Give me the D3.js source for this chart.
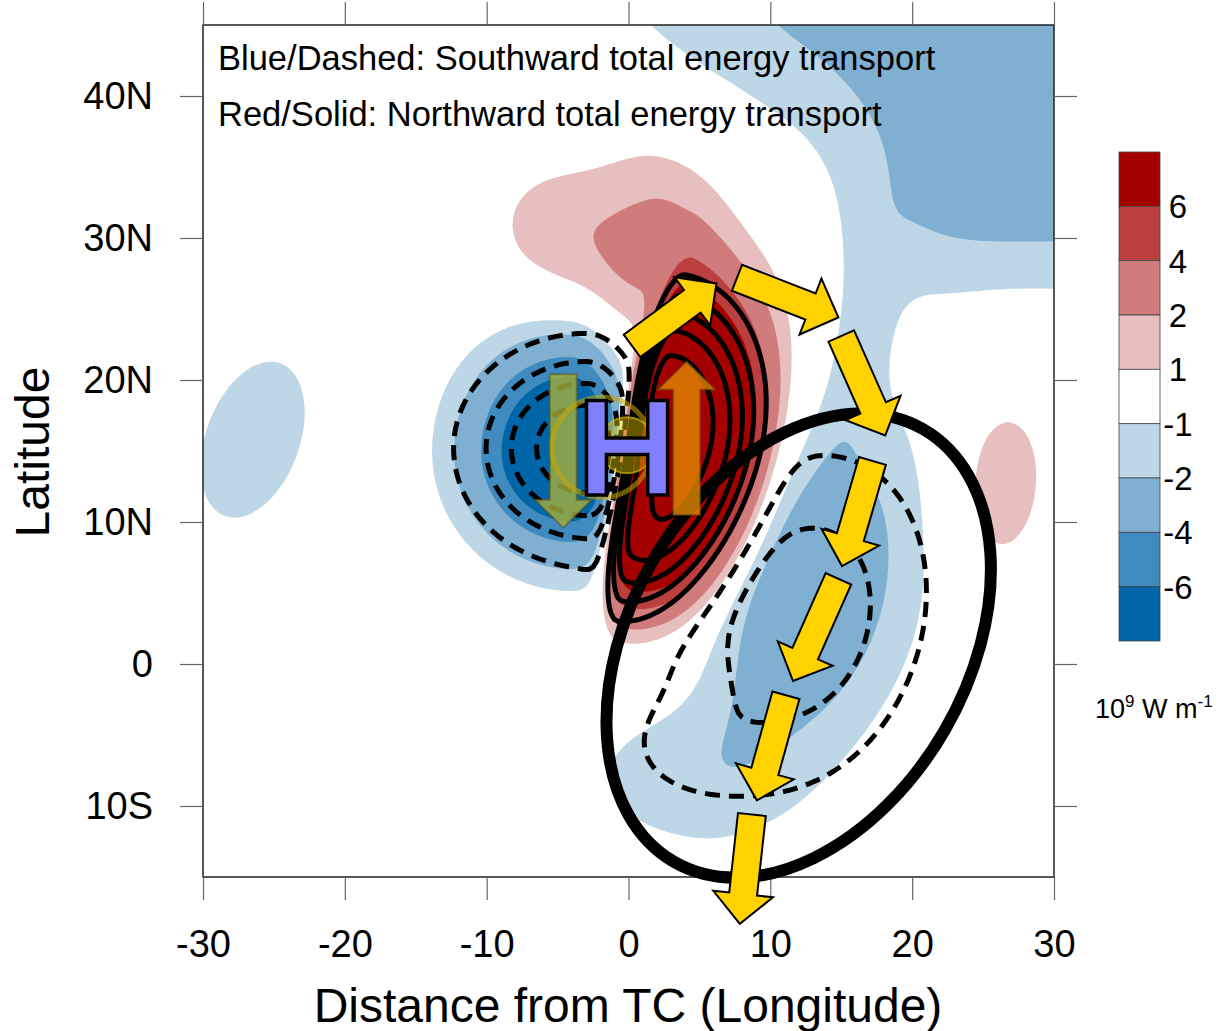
<!DOCTYPE html>
<html>
<head>
<meta charset="utf-8">
<script src="https://cdn.jsdelivr.net/npm/d3@7"></script>
<style>
  body { margin: 0; background: #fff; }
  text { font-family: "Liberation Sans", Arial, Helvetica, sans-serif; }
</style>
</head>
<body>
<div id="chart"></div>
<script>
// Shading levels and colours (10^9 W m^-1)
var fillLevels = [1, 2, 4, 6];
var redColors = ["#e8bfbf", "#d17c7c", "#bc3f3f", "#a50000"];
var blueColors = ["#bdd7e7", "#7fb0d2", "#3f8bbf", "#0066a8"];

// Colour bar, top to bottom
var barColors = ["#a50000", "#bc3f3f", "#d17c7c", "#e8bfbf", "#ffffff", "#bdd7e7", "#7fb0d2", "#3f8bbf", "#0066a8"];
var barLabels = ["6", "4", "2", "1", "-1", "-2", "-4", "-6"];

// Contour line levels (solid = northward, dashed = southward)
var lineLevelsPos = [2, 4, 6, 8, 10];
var lineLevelsNeg = [2, 4, 6, 8];

var lonTicks = [-30, -20, -10, 0, 10, 20, 30];
var latTicks = [-10, 0, 10, 20, 30, 40];

// Anomaly cells:
// [lon, lat, amplitude, west, east, south, north, tilt(deg), shape, squareness]
var shadeCells = [
  [-4.0, 15.0, -11.0, 4.5, 2.3, 4.5, 5.0, 0, 2, 2],
  [2.0, 15.0, 12.0, 2.18, 5.8, 9.3, 9.9, 11, 4, 2],
  [2.5, 29.5, 2.6, 6.8, 4.0, 4.6, 4.9, -20, 2, 2],
  [-6.0, 31.5, 0.7, 2.5, 2.5, 2.5, 2.5, 0, 2, 2],
  [9.0, 20.0, 1.4, 2.5, 2.5, 7.0, 7.0, 10, 2, 2],
  [12.3, 4.8, -3.5, 3.5, 5.3, 8.5, 9.2, 17, 2, 2],
  [3.0, -8.0, -1.35, 5.5, 5.5, 4.0, 4.0, 0, 2, 2],
  [16.3, 23.0, -0.9, 1.5, 1.5, 5.5, 5.5, 10, 2, 2],
  [30.5, 37.5, -3.8, 9.7, 9.7, 6.8, 6.8, 0, 2, 4],
  [8.0, 47.0, -1.7, 9.0, 9.0, 5.0, 5.0, 25, 2, 2],
  [-26.5, 15.8, -1.6, 3.4, 3.4, 5.9, 5.9, 20, 2, 2],
  [26.2, 12.7, 1.7, 2.6, 2.6, 5.0, 5.0, 5, 2, 2]
];
var lineCells = [
  [-3.0, 15.2, -10.0, 5.2, 2.5, 4.6, 4.5, 0, 2, 2],
  [1.6, 15.0, 12.0, 1.7, 6.1, 9.4, 9.2, 11, 4, 2],
  [12.0, 3.0, -5.5, 6.1, 6.1, 8.4, 8.4, 17, 2, 2],
  [4.0, -6.0, -1.5, 3.5, 3.5, 2.5, 2.5, 0, 2, 2]
];

// Annotations in lon/lat
var energyArrows = [
  [0.25, 22.4, 6.2, 26.8],
  [7.65, 27.2, 14.8, 24.4],
  [15.0, 23.1, 18.1, 16.1],
  [17.2, 14.3, 15.05, 6.9],
  [14.8, 6.0, 11.6, -1.2],
  [11.1, -2.2, 9.05, -9.6],
  [8.7, -10.6, 7.85, -18.3]
];
var loopEllipse = [12.0, 1.3, 17.6, 11.9, 60];
var tcArrows = [
  [-4.6, 20.4, -4.6, 9.6],
  [4.1, 10.5, 4.1, 21.3]
];
var tcCentre = [-0.1, 15.4];

var svgWidth = 1221, svgHeight = 1031;
var plot = { left: 203, top: 25, right: 1054, bottom: 877 };

var svg = d3.select("#chart").append("svg")
  .attr("width", svgWidth)
  .attr("height", svgHeight);

var x = d3.scaleLinear().domain([-30, 30]).range([plot.left, plot.right]);
var y = d3.scaleLinear().domain([-15, 45]).range([plot.bottom, plot.top]);
var pxPerDeg = x(1) - x(0);

svg.append("clipPath").attr("id", "plotClip")
  .append("rect")
  .attr("x", plot.left).attr("y", plot.top)
  .attr("width", plot.right - plot.left).attr("height", plot.bottom - plot.top);

// Build the gridded fields from the cells
function cellValue(c, lon, lat) {
  var t = c[7] * Math.PI / 180;
  var dx = lon - c[0], dy = lat - c[1];
  var u = dx * Math.cos(t) - dy * Math.sin(t);
  var v = dx * Math.sin(t) + dy * Math.cos(t);
  var su = u < 0 ? c[3] : c[4];
  var sv = v < 0 ? c[5] : c[6];
  var q = c[9];
  var r = Math.pow(Math.pow(Math.abs(u / su), q) + Math.pow(Math.abs(v / sv), q), 1 / q);
  return c[2] * Math.exp(-0.5 * Math.pow(r, c[8]));
}

var step = 0.25;
var nx = Math.round(60 / step) + 1, ny = nx;

function buildField(cells) {
  var values = new Array(nx * ny);
  for (var j = 0; j < ny; j++) {
    for (var i = 0; i < nx; i++) {
      var lon = -30 + i * step, lat = 45 - j * step, s = 0;
      for (var k = 0; k < cells.length; k++) s += cellValue(cells[k], lon, lat);
      values[j * nx + i] = s;
    }
  }
  return values;
}

var shadeValues = buildField(shadeCells);
var lineValues = buildField(lineCells);

var gridPath = d3.geoPath(d3.geoTransform({
  point: function(gx, gy) {
    this.stream.point(x(-30 + (gx - 0.5) * step), y(45 - (gy - 0.5) * step));
  }
}));
var contours = d3.contours().size([nx, ny]);

var plotGroup = svg.append("g").attr("clip-path", "url(#plotClip)");

// Filled shading
var redBands = contours.thresholds(fillLevels)(shadeValues);
var blueBands = contours.thresholds(fillLevels)(shadeValues.map(v => -v));

plotGroup.selectAll("path.blue")
  .data(blueBands)
  .enter()
  .append("path")
  .attr("class", "blue")
  .attr("d", gridPath)
  .attr("fill", (d, i) => blueColors[i]);

plotGroup.selectAll("path.red")
  .data(redBands)
  .enter()
  .append("path")
  .attr("class", "red")
  .attr("d", gridPath)
  .attr("fill", (d, i) => redColors[i]);

// Contour lines
plotGroup.selectAll("path.solid")
  .data(contours.thresholds(lineLevelsPos)(lineValues))
  .enter()
  .append("path")
  .attr("class", "solid")
  .attr("d", gridPath)
  .attr("fill", "none")
  .attr("stroke", "#000")
  .attr("stroke-width", 5);

plotGroup.selectAll("path.dashed")
  .data(contours.thresholds(lineLevelsNeg)(lineValues.map(v => -v)))
  .enter()
  .append("path")
  .attr("class", "dashed")
  .attr("d", gridPath)
  .attr("fill", "none")
  .attr("stroke", "#000")
  .attr("stroke-width", 5)
  .attr("stroke-dasharray", "15,9");

// Frame
svg.append("rect")
  .attr("x", plot.left).attr("y", plot.top)
  .attr("width", plot.right - plot.left).attr("height", plot.bottom - plot.top)
  .attr("fill", "none")
  .attr("stroke", "#222")
  .attr("stroke-width", 1.5);

// Axes
function latLabel(d) {
  if (d > 0) return d + "N";
  if (d < 0) return (-d) + "S";
  return "0";
}

var leftAxis = d3.axisLeft(y).tickValues(latTicks).tickFormat(latLabel)
  .tickSizeInner(23).tickSizeOuter(0).tickPadding(27);
var rightAxis = d3.axisRight(y).tickValues(latTicks).tickFormat("")
  .tickSizeInner(23).tickSizeOuter(0);
var bottomAxis = d3.axisBottom(x).tickValues(lonTicks).tickFormat(d => String(d))
  .tickSizeInner(23).tickSizeOuter(0).tickPadding(30);
var topAxis = d3.axisTop(x).tickValues(lonTicks).tickFormat("")
  .tickSizeInner(23).tickSizeOuter(0);

var axes = [
  svg.append("g").attr("transform", `translate(${plot.left},0)`).call(leftAxis),
  svg.append("g").attr("transform", `translate(${plot.right},0)`).call(rightAxis),
  svg.append("g").attr("transform", `translate(0,${plot.bottom})`).call(bottomAxis),
  svg.append("g").attr("transform", `translate(0,${plot.top})`).call(topAxis)
];
axes.forEach(function(g) {
  g.select(".domain").remove();
  g.selectAll(".tick line").attr("stroke", "#666").attr("stroke-width", 1.2);
  g.selectAll(".tick text")
    .attr("font-size", 38)
    .attr("fill", "#000")
    .style("font-family", "'Liberation Sans', Arial, sans-serif");
});

// Axis titles
svg.append("text")
  .attr("transform", "translate(49,452) rotate(-90)")
  .attr("text-anchor", "middle")
  .attr("font-size", 48)
  .text("Latitude");

svg.append("text")
  .attr("x", 628).attr("y", 1022)
  .attr("text-anchor", "middle")
  .attr("font-size", 48)
  .text("Distance from TC (Longitude)");

// Legend text inside the map
svg.append("text").attr("x", 218).attr("y", 70).attr("font-size", 34.5)
  .text("Blue/Dashed: Southward total energy transport");
svg.append("text").attr("x", 218).attr("y", 126).attr("font-size", 34.5)
  .text("Red/Solid: Northward total energy transport");

// Annotation layer
var notes = svg.append("g");

notes.append("ellipse")
  .attr("cx", x(loopEllipse[0]))
  .attr("cy", y(loopEllipse[1]))
  .attr("rx", loopEllipse[2] * pxPerDeg)
  .attr("ry", loopEllipse[3] * pxPerDeg)
  .attr("transform", `rotate(${-loopEllipse[4]},${x(loopEllipse[0])},${y(loopEllipse[1])})`)
  .attr("fill", "none")
  .attr("stroke", "#000")
  .attr("stroke-width", 12);

function blockArrow(a, shaftHalf, headHalf, headLen) {
  var x0 = x(a[0]), y0 = y(a[1]), x1 = x(a[2]), y1 = y(a[3]);
  var len = Math.hypot(x1 - x0, y1 - y0);
  var ux = (x1 - x0) / len, uy = (y1 - y0) / len;
  var nxv = -uy, nyv = ux;
  var bx = x1 - ux * headLen, by = y1 - uy * headLen;
  var pts = [
    [x0 + nxv * shaftHalf, y0 + nyv * shaftHalf],
    [bx + nxv * shaftHalf, by + nyv * shaftHalf],
    [bx + nxv * headHalf, by + nyv * headHalf],
    [x1, y1],
    [bx - nxv * headHalf, by - nyv * headHalf],
    [bx - nxv * shaftHalf, by - nyv * shaftHalf],
    [x0 - nxv * shaftHalf, y0 - nyv * shaftHalf]
  ];
  return d3.line()(pts) + "Z";
}

// TC-relative flow arrows (semi-transparent)
var tcColors = ["#a5af3a", "#e18700"];
notes.selectAll("path.tc")
  .data(tcArrows)
  .enter()
  .append("path")
  .attr("class", "tc")
  .attr("d", d => blockArrow(d, 13.5, 28.5, 28))
  .attr("fill", (d, i) => tcColors[i])
  .attr("fill-opacity", 0.8)
  .attr("stroke", "#5a4a10")
  .attr("stroke-opacity", 0.5)
  .attr("stroke-width", 2);

// TC symbol
notes.append("circle")
  .attr("cx", x(tcCentre[0]) - 25).attr("cy", y(tcCentre[1]) + 2)
  .attr("r", 50)
  .attr("fill", "none")
  .attr("stroke", "#c8a800")
  .attr("stroke-opacity", 0.55)
  .attr("stroke-width", 5);
notes.append("circle")
  .attr("cx", x(tcCentre[0])).attr("cy", y(tcCentre[1]))
  .attr("r", 28)
  .attr("fill", "#e0c000")
  .attr("fill-opacity", 0.45)
  .attr("stroke", "#e8c800")
  .attr("stroke-opacity", 0.6)
  .attr("stroke-width", 2);

notes.append("text")
  .attr("x", x(tcCentre[0]))
  .attr("y", y(tcCentre[1]) + 50)
  .attr("text-anchor", "middle")
  .attr("font-size", 138)
  .attr("font-weight", "bold")
  .attr("fill", "#8080ff")
  .attr("stroke", "#000")
  .attr("stroke-width", 3.5)
  .text("H");

// Energy path arrows
notes.selectAll("path.energy")
  .data(energyArrows)
  .enter()
  .append("path")
  .attr("class", "energy")
  .attr("d", d => blockArrow(d, 14, 30, 30))
  .attr("fill", "#ffd200")
  .attr("stroke", "#000")
  .attr("stroke-width", 2)
  .attr("stroke-linejoin", "miter");

// Colour bar
var bar = { x: 1119, top: 152, width: 41, height: 489 };
var barScale = d3.scaleBand().domain(d3.range(barColors.length)).range([bar.top, bar.top + bar.height]);

svg.selectAll("rect.bin")
  .data(barColors)
  .enter()
  .append("rect")
  .attr("class", "bin")
  .attr("x", bar.x)
  .attr("y", (d, i) => barScale(i))
  .attr("width", bar.width)
  .attr("height", barScale.bandwidth())
  .attr("fill", d => d)
  .attr("stroke", "#444")
  .attr("stroke-width", 0.8);

svg.selectAll("text.barlabel")
  .data(barLabels)
  .enter()
  .append("text")
  .attr("class", "barlabel")
  .attr("x", 1178)
  .attr("y", (d, i) => barScale(i + 1) + 12)
  .attr("text-anchor", "middle")
  .attr("font-size", 33)
  .text(d => d);

var unit = svg.append("text").attr("x", 1095).attr("y", 718).attr("font-size", 27);
unit.append("tspan").text("10");
unit.append("tspan").attr("font-size", 17).attr("dy", -11).text("9");
unit.append("tspan").attr("dy", 11).text(" W m");
unit.append("tspan").attr("font-size", 17).attr("dy", -11).text("-1");
</script>
</body>
</html>
